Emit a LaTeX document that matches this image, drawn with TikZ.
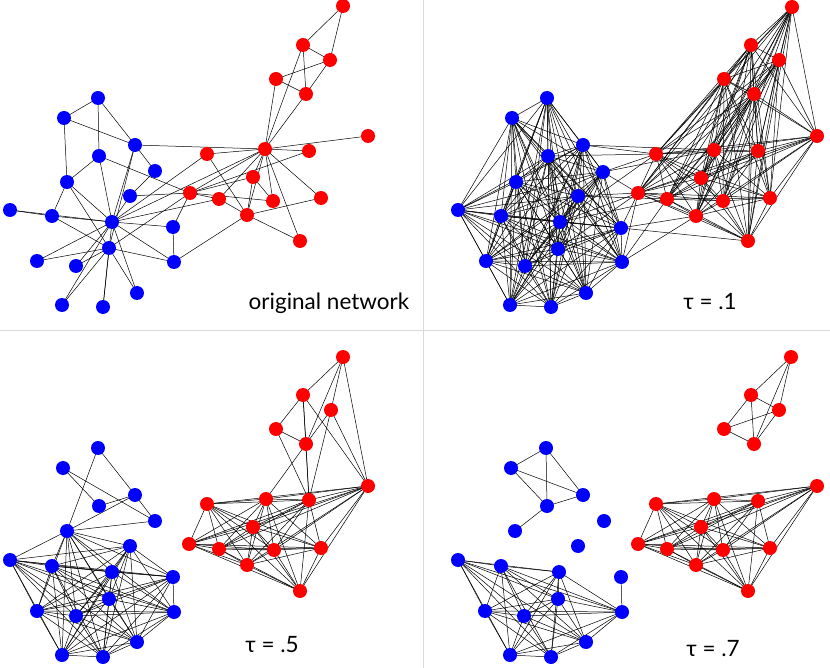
\documentclass[tikz,border=0pt]{standalone}
\usepackage{fontspec}
\setmainfont{Lato}
\begin{document}
\begin{tikzpicture}[x=1pt,y=-1pt,
  edge/.style={black,line width=0.5pt},
  bdot/.style={fill={rgb,255:red,0;green,0;blue,255}},
  rdot/.style={fill={rgb,255:red,255;green,0;blue,0}},
  lbl/.style={font=\fontsize{22.5}{24}\selectfont,anchor=base}]
\useasboundingbox (0,0) rectangle (830,668);
\draw[black!15,line width=0.8pt] (423,0) coordinate (v1) -- (423,668) coordinate (v2);
\draw[black!15,line width=0.8pt] (0,330) coordinate (h1) -- (830,330) coordinate (h2);
% coordinates
\foreach[count=\i] \x/\y in {98/98,64/118,135/145,99/156,155/171,67/182,130/196,10/210,52/216,112/222,173/227,109/248,37/261,76/266,174/262,137/293,62/305,103/307}
  {\coordinate (aB\i) at (\x,\y);}
\foreach[count=\i] \x/\y in {343/6,303/45,330/60,276/79,306/94,368/136,265/149,309/151,207/154,253/177,190/193,219/199,273/201,321/198,247/215,300/241}
  {\coordinate (aR\i) at (\x,\y);}
\foreach[count=\i] \x/\y in {547/98,512/118,583/145,548/156,603/172,516/182,578/196,458/210,501/216,560/222,621/228,558/249,486/261,525/266,622/262,586/293,510/305,551/307}
  {\coordinate (bB\i) at (\x,\y);}
\foreach[count=\i] \x/\y in {792/7,751/45,779/60,724/79,754/94,817/136,714/150,758/151,656/154,701/178,638/193,667/199,723/201,770/198,696/216,748/241}
  {\coordinate (bR\i) at (\x,\y);}
\foreach[count=\i] \x/\y in {98/448,63/468,135/495,99/506,155/521,67/531,130/546,10/560,52/566,112/572,173/577,109/599,37/611,76/616,174/612,137/642,62/655,103/657}
  {\coordinate (cB\i) at (\x,\y);}
\foreach[count=\i] \x/\y in {343/357,303/395,331/410,276/429,306/444,368/486,266/499,309/500,207/504,253/527,189/544,219/549,274/550,321/548,247/565,300/591}
  {\coordinate (cR\i) at (\x,\y);}
\foreach[count=\i] \x/\y in {546/448,511/468,583/495,547/506,604/521,515/531,578/546,458/560,501/566,559/572,621/577,558/599,485/611,524/616,622/612,586/642,510/655,551/657}
  {\coordinate (dB\i) at (\x,\y);}
\foreach[count=\i] \x/\y in {791/357,751/395,779/410,724/429,754/444,817/486,714/499,758/501,656/504,701/527,638/544,667/549,723/550,770/548,696/565,748/591}
  {\coordinate (dR\i) at (\x,\y);}
% panel a edges
\foreach \i/\j in {1/2,1/4,1/3,2/6,2/3,3/5,3/10,3/12,4/6,4/10,5/7,6/9,6/10,6/12,8/9,8/10,9/10,9/12,10/11,10/15,10/13,10/14,10/17,10/16,10/18,12/13,12/14,12/17,12/18,12/16,12/15,11/15,7/10}
  {\draw[edge] (aB\i) -- (aB\j);}
\foreach \i/\j in {3/7,10/7,10/9,4/11,7/11,11/11,12/11,15/15,10/12}
  {\draw[edge] (aB\i) -- (aR\j);}
\foreach \i/\j in {1/2,1/3,2/3,2/5,2/7,3/4,4/5,4/7,5/7,3/5,7/6,7/8,7/9,7/10,7/11,7/12,7/13,7/15,7/14,7/16,9/15,11/12,11/13,11/10,10/15,10/13,12/15,15/14,15/16,8/11}
  {\draw[edge] (aR\i) -- (aR\j);}
% panel b edges: dense
\foreach \i in {1,...,17}{\pgfmathtruncatemacro\s{\i+1}
  \foreach \j in {\s,...,18}{\draw[edge] (bB\i) -- (bB\j);}}
\foreach \i in {1,...,15}{\pgfmathtruncatemacro\s{\i+1}
  \foreach \j in {\s,...,16}{\draw[edge] (bR\i) -- (bR\j);}}
\foreach \i/\j in {3/7,3/9,5/9,5/11,5/7,7/11,7/12,10/11,10/12,11/11,11/15,11/16,15/15,15/11,15/12,10/9,12/11,4/9}
  {\draw[edge] (bB\i) -- (bR\j);}
% panel c edges
\foreach \i/\j in {1/6,1/3,2/4,2/5,3/4,3/5,6/3,6/5}
  {\draw[edge] (cB\i) -- (cB\j);}
\foreach \i in {6,...,17}{\pgfmathtruncatemacro\s{\i+1}
  \foreach \j in {\s,...,18}{\draw[edge] (cB\i) -- (cB\j);}}
\foreach \i/\j in {1/2,1/3,1/5,1/6,2/4,2/5,2/8,2/6,3/5,3/8,3/6,4/5,4/8,5/8,7/5}
  {\draw[edge] (cR\i) -- (cR\j);}
\foreach \i in {6,...,15}{\pgfmathtruncatemacro\s{\i+1}
  \foreach \j in {\s,...,16}{\draw[edge] (cR\i) -- (cR\j);}}
% panel d edges
\foreach \i/\j in {1/2,1/3,1/4,2/3,2/4,4/3,4/6,11/15}
  {\draw[edge] (dB\i) -- (dB\j);}
\foreach \i in {8,9,10,12,13,14,15,16,17}{
  \foreach \j in {8,9,10,12,13,14,15,16,17,18}{
    \ifnum\j>\i \draw[edge] (dB\i) -- (dB\j);\fi}}
\foreach \i/\j in {1/2,1/3,1/5,2/4,2/5,2/3,3/4,3/5,4/5}
  {\draw[edge] (dR\i) -- (dR\j);}
\foreach \i in {6,...,15}{\pgfmathtruncatemacro\s{\i+1}
  \foreach \j in {\s,...,16}{\draw[edge] (dR\i) -- (dR\j);}}
% dots
\foreach \p in {a,b,c,d}{
  \foreach \i in {1,...,18}{\fill[bdot] (\p B\i) circle (7);}
  \foreach \i in {1,...,16}{\fill[rdot] (\p R\i) circle (7);}}
% labels
\node[lbl] (la) at (329,309) {original network};
\node[lbl] (lb) at (710,309) {τ = .1};
\node[lbl] (lc) at (272,652) {τ = .5};
\node[lbl] (ld) at (713,656) {τ = .7};
\end{tikzpicture}
\end{document}
